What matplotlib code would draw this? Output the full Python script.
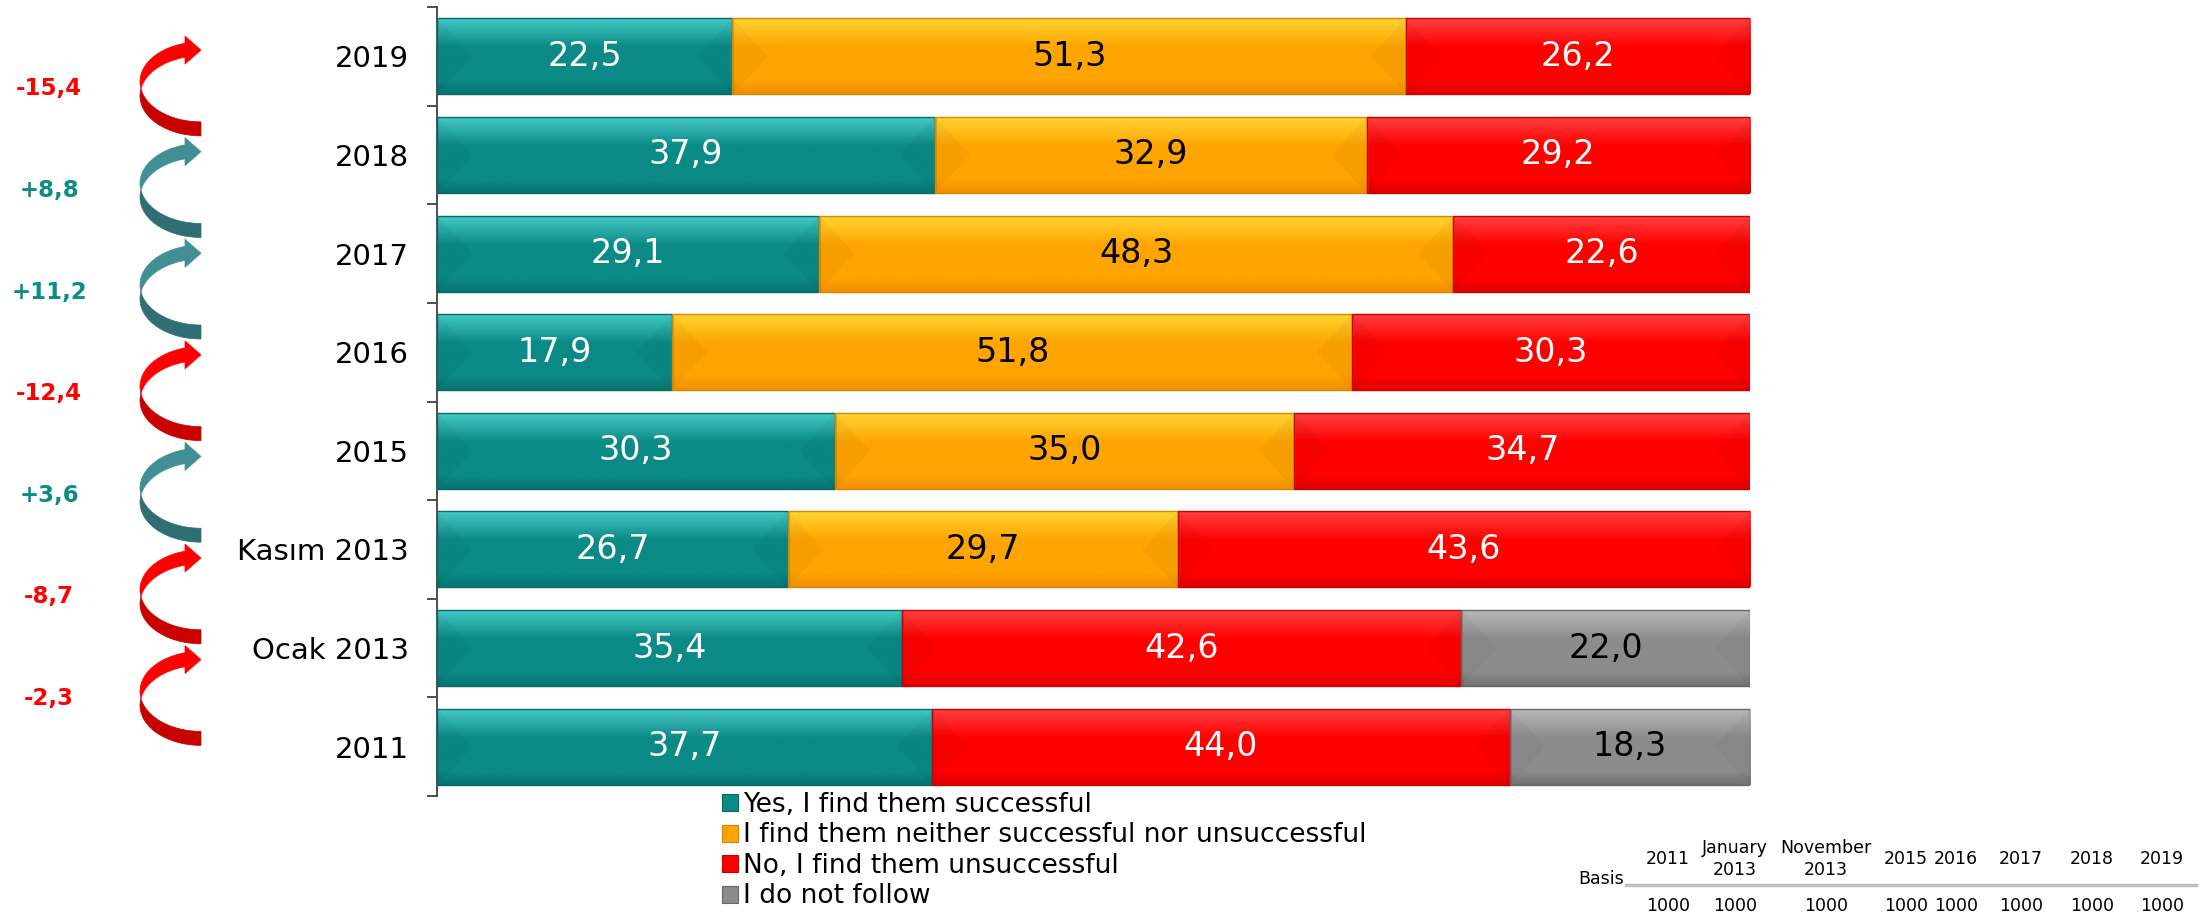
import numpy as np
import matplotlib
matplotlib.use('Agg')
import matplotlib.pyplot as plt
from matplotlib.patches import Polygon, Patch
from matplotlib.transforms import IdentityTransform
from matplotlib.lines import Line2D
from matplotlib.colors import to_rgb

# ---------------- data ----------------
categories = ['2019', '2018', '2017', '2016', '2015', 'Kasım 2013', 'Ocak 2013', '2011']
yes = [22.5, 37.9, 29.1, 17.9, 30.3, 26.7, 35.4, 37.7]
neither = [51.3, 32.9, 48.3, 51.8, 35.0, 29.7, 0.0, 0.0]
no = [26.2, 29.2, 22.6, 30.3, 34.7, 43.6, 42.6, 44.0]
not_follow = [0.0, 0.0, 0.0, 0.0, 0.0, 0.0, 22.0, 18.3]
series_names = ['Yes, I find them successful',
                'I find them neither successful nor unsuccessful',
                'No, I find them unsuccessful',
                'I do not follow']
basis_headers = ['2011', 'January\n2013', 'November\n2013', '2015', '2016', '2017', '2018', '2019']
basis_counts = [1000, 1000, 1000, 1000, 1000, 1000, 1000, 1000]

# ---------------- styles ----------------
styles = [
    dict(top='#45CAC7', mid='#0B8A86', bot='#077370', edge='#066a67', txt='white'),
    dict(top='#FFD633', mid='#FFA400', bot='#F08F00', edge='#D98500', txt='black'),
    dict(top='#FF4040', mid='#FF0000', bot='#DD0000', edge='#C80000', txt='white'),
    dict(top='#B8B8B8', mid='#8C8C8C', bot='#727272', edge='#666666', txt='black'),
]
TEAL_TXT = '#0E8C86'
RED_TXT = '#FF0000'
arrow_cols = {'pos': ('#418F94', '#2F6F73'), 'neg': ('#FF0000', '#C80000')}

W, H = 2207, 915
fig = plt.figure(figsize=(W / 100, H / 100), dpi=100)
ax = fig.add_axes([437 / W, 1 - 796 / H, (1750 - 437) / W, (796 - 7) / H])

y = np.arange(len(categories))
series = [yes, neither, no, not_follow]
left = np.zeros(len(categories))
bar_h = 0.77
bevel = 2.7  # horizontal depth of end bevels, in axis units


def gradient(st, n=120):
    t = np.linspace(0, 1, n)
    stops = [0.0, 0.38, 0.82, 1.0]
    cols = [to_rgb(st['top']), to_rgb(st['mid']), to_rgb(st['mid']), to_rgb(st['bot'])]
    arr = np.zeros((n, 1, 3))
    for c in range(3):
        arr[:, 0, c] = np.interp(t, stops, [cc[c] for cc in cols])
    return arr


for vals, st in zip(series, styles):
    vals = np.asarray(vals, dtype=float)
    bars = ax.barh(y, vals, left=left, height=bar_h, facecolor='none',
                   edgecolor=st['edge'], linewidth=1.0, zorder=3)
    g = gradient(st)
    for rect, v in zip(bars, vals):
        if v <= 0:
            rect.set_visible(False)
            continue
        x0, w = rect.get_x(), rect.get_width()
        y0, h = rect.get_y(), rect.get_height()
        ax.imshow(g, extent=(x0, x0 + w, y0 + h, y0), aspect='auto',
                  interpolation='bilinear', origin='upper', zorder=2)
        d = min(bevel, w / 2)
        for tri in ([(x0, y0), (x0 + d, y0 + h / 2), (x0, y0 + h)],
                    [(x0 + w, y0), (x0 + w - d, y0 + h / 2), (x0 + w, y0 + h)]):
            ax.add_patch(Polygon(tri, closed=True, facecolor='black', alpha=0.035,
                                 edgecolor='none', zorder=2.2))
        ax.text(x0 + w / 2, y0 + h / 2, f"{v:.1f}".replace('.', ','),
                ha='center', va='center', color=st['txt'], fontsize=24, zorder=4)
    left = left + vals

ax.set_xlim(0, 100)
ax.set_ylim(len(categories) - 0.5, -0.5)
ax.set_yticks(y)
ax.set_yticklabels(categories, fontsize=21)
ax.set_yticks(np.arange(len(categories) + 1) - 0.5, minor=True)
ax.tick_params(axis='y', which='major', length=0, pad=20)
ax.tick_params(axis='y', which='minor', length=7, width=1.3, color='#404040', direction='out')
ax.set_xticks([])
for s in ['top', 'right', 'bottom']:
    ax.spines[s].set_visible(False)
ax.spines['left'].set_color('#404040')
ax.spines['left'].set_linewidth(1.3)

# ---------------- legend ----------------
handles = [Patch(facecolor=st['mid'], edgecolor=st['edge'], linewidth=0.8) for st in styles]
fig.legend(handles, series_names, loc='upper left', bbox_to_anchor=(722 / W, 1 - 792 / H),
           frameon=False, fontsize=19, handlelength=0.6, handleheight=0.6,
           handletextpad=0.18, labelspacing=0.17, borderpad=0, borderaxespad=0)


# ---------------- curved change arrows (two offset ellipses) ----------------
def curved_arrow(cx, yc, a, b, t, hl, hw, c_up, c_low, n=80):
    yL, yU = yc - t / 2, yc + t / 2          # centres of lower / upper ellipse
    phi_p = np.arccos(-t / (2 * b))          # pinch on lower ellipse
    psi_p = np.arccos(t / (2 * b))           # pinch on upper ellipse
    ang_h = np.pi - np.arcsin(hl / a)        # where the head starts
    def L(p):
        return np.column_stack([cx - a * np.sin(p), yL - b * np.cos(p)])
    def U(p):
        return np.column_stack([cx - a * np.sin(p), yU - b * np.cos(p)])
    low = np.vstack([L(np.linspace(0, phi_p, n)), U(np.linspace(psi_p, 0, n))])
    up = np.vstack([U(np.linspace(psi_p, ang_h, n)), L(np.linspace(ang_h, phi_p, n))])
    for poly, col in ((low, c_low), (up, c_up)):
        fig.add_artist(Polygon(poly, closed=True, facecolor=col, edgecolor=col,
                               linewidth=0.5, transform=IdentityTransform()))
    yh = (U(np.array([ang_h]))[0, 1] + L(np.array([ang_h]))[0, 1]) / 2
    head = np.array([[cx - hl - 1, yh + hw / 2], [cx, yh], [cx - hl - 1, yh - hw / 2]])
    fig.add_artist(Polygon(head, closed=True, facecolor=c_up, edgecolor=c_up,
                           linewidth=0.5, transform=IdentityTransform()))


yes_arr = np.array(yes)
deltas = yes_arr[:-1] - yes_arr[1:]
for i, d in enumerate(deltas):
    ymid = 0.33 + 1.03 * i
    cy = ax.transData.transform((0, ymid))[1]
    key = 'pos' if d > 0 else 'neg'
    c_up, c_low = arrow_cols[key]
    curved_arrow(201, cy, 61, 40, 14, 15, 28, c_up, c_low)
    txt = f"{d:+.1f}".replace('.', ',')
    fig.text(49 / W, cy / H, txt, ha='center', va='center', fontsize=16.5, fontweight='bold',
             family='DejaVu Sans', color=TEAL_TXT if d > 0 else RED_TXT)

# ---------------- basis table ----------------
tfont = ['Liberation Sans Narrow', 'DejaVu Sans']
col_x = [1668, 1735, 1826, 1906, 1956, 2021, 2092, 2162]
for hx, lab, n in zip(col_x, basis_headers, basis_counts):
    fig.text(hx / W, 1 - 859 / H, lab, ha='center', va='center', fontsize=12.5,
             family=tfont, linespacing=1.35)
    fig.text(hx / W, 1 - 906 / H, str(n), ha='center', va='center', fontsize=12.5, family=tfont)
fig.text(1624 / W, 1 - 884 / H, 'Basis', ha='right', va='baseline', fontsize=12.5, family=tfont)
fig.add_artist(Line2D([1626 / W, 2196 / W], [1 - 885 / H] * 2, color='#BFBFBF', lw=2.5,
                      transform=fig.transFigure))

fig.savefig('out.png', dpi=100)
